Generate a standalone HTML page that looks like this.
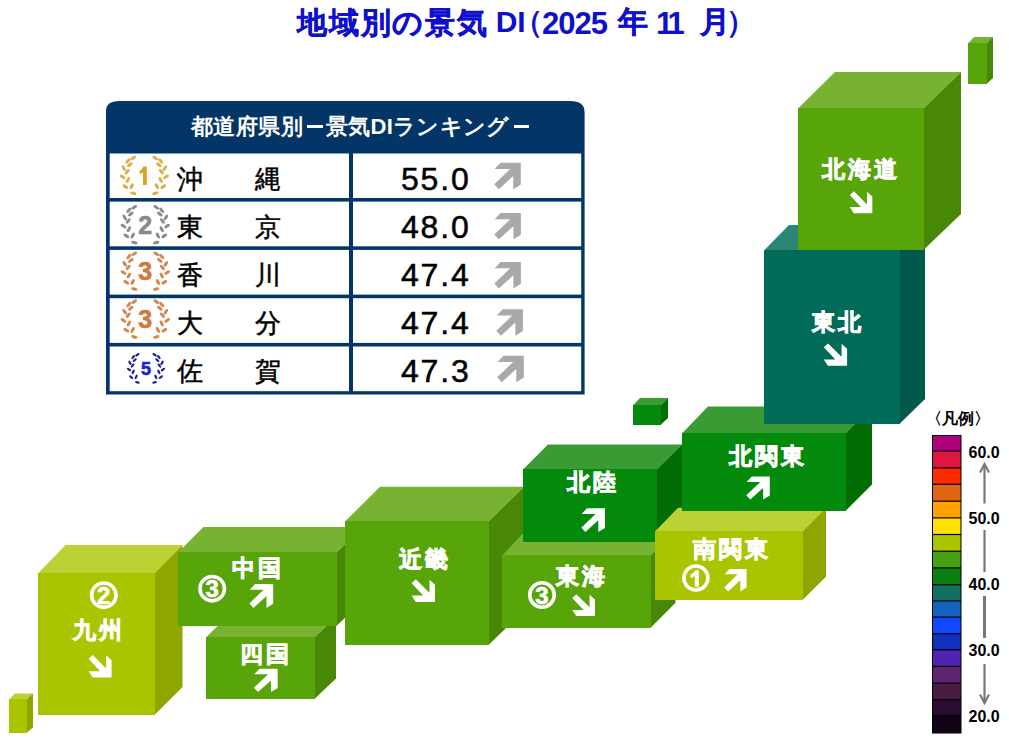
<!DOCTYPE html>
<html><head><meta charset="utf-8">
<style>
html,body{margin:0;padding:0;background:#fff;}
body{width:1009px;height:756px;position:relative;overflow:hidden;font-family:"Liberation Sans",sans-serif;}
svg{position:absolute;left:0;top:0;}
.t{position:absolute;white-space:pre;line-height:1;}
</style></head><body>
<svg width="1009" height="756" viewBox="0 0 1009 756"><path fill="#033567" d="M106,394.6 L106,111 Q106,101 119.5,101 L570,101 Q584.6,101 584.6,112 L584.6,394.6 Z"/><rect fill="#fff" x="109.7" y="153.5" width="239.3" height="44.5"/><rect fill="#fff" x="353" y="153.5" width="228.2" height="44.5"/><rect fill="#fff" x="109.7" y="201.6" width="239.3" height="44.7"/><rect fill="#fff" x="353" y="201.6" width="228.2" height="44.7"/><rect fill="#fff" x="109.7" y="249.9" width="239.3" height="44.7"/><rect fill="#fff" x="353" y="249.9" width="228.2" height="44.7"/><rect fill="#fff" x="109.7" y="298.2" width="239.3" height="44.7"/><rect fill="#fff" x="353" y="298.2" width="228.2" height="44.7"/><rect fill="#fff" x="109.7" y="346.5" width="239.3" height="44.7"/><rect fill="#fff" x="353" y="346.5" width="228.2" height="44.7"/><polygon fill="#bcd134" points="38.0,573.6 65.5,545.0 182.5,545.0 154.4,573.6"/><polygon fill="#8fa600" points="154.4,573.6 182.5,545.0 182.5,687.0 154.4,715.0"/><rect fill="#aac400" x="38" y="573" width="117" height="142"/><polygon fill="#77b233" points="206.0,637.6 227.0,616.5 336.0,616.5 314.4,637.6"/><polygon fill="#488806" points="314.4,637.6 336.0,616.5 336.0,678.5 314.4,699.0"/><rect fill="#58a50a" x="206" y="637" width="109" height="62"/><polygon fill="#77b233" points="178.0,552.6 203.5,527.0 362.5,527.0 336.4,552.6"/><polygon fill="#488806" points="336.4,552.6 362.5,527.0 362.5,601.0 336.4,626.0"/><rect fill="#58a50a" x="178" y="552" width="159" height="74"/><polygon fill="#77b233" points="345.0,521.6 380.0,486.8 524.0,486.8 488.4,521.6"/><polygon fill="#488806" points="488.4,521.6 524.0,486.8 524.0,610.8 488.4,645.0"/><rect fill="#58a50a" x="345" y="521" width="144" height="124"/><polygon fill="#77b233" points="502.0,555.6 526.5,529.8 675.5,529.8 650.4,555.6"/><polygon fill="#488806" points="650.4,555.6 675.5,529.8 675.5,602.8 650.4,628.0"/><rect fill="#58a50a" x="502" y="555" width="149" height="73"/><polygon fill="#3a9a34" points="523.0,469.6 548.0,444.5 682.0,444.5 656.4,469.6"/><polygon fill="#026d05" points="656.4,469.6 682.0,444.5 682.0,517.5 656.4,542.0"/><rect fill="#038a0c" x="523" y="469" width="134" height="73"/><polygon fill="#bcd134" points="655.0,531.6 678.0,507.8 826.0,507.8 802.4,531.6"/><polygon fill="#8fa600" points="802.4,531.6 826.0,507.8 826.0,576.8 802.4,600.0"/><rect fill="#aac400" x="655" y="531" width="148" height="69"/><polygon fill="#3a9a34" points="682.0,433.6 708.0,406.5 872.0,406.5 845.4,433.6"/><polygon fill="#026d05" points="845.4,433.6 872.0,406.5 872.0,484.5 845.4,511.0"/><rect fill="#038a0c" x="682" y="433" width="164" height="78"/><polygon fill="#2b8676" points="764.0,250.6 789.0,225.0 925.0,225.0 899.4,250.6"/><polygon fill="#00594a" points="899.4,250.6 925.0,225.0 925.0,399.0 899.4,424.0"/><rect fill="#006b57" x="764" y="250" width="136" height="174"/><polygon fill="#77b233" points="798.0,108.6 835.0,72.0 961.0,72.0 923.4,108.6"/><polygon fill="#488806" points="923.4,108.6 961.0,72.0 961.0,214.0 923.4,250.0"/><rect fill="#58a50a" x="798" y="108" width="126" height="142"/><polygon fill="#77b233" points="968.0,43.6 974.0,37.0 993.0,37.0 986.4,43.6"/><polygon fill="#488806" points="986.4,43.6 993.0,37.0 993.0,78.0 986.4,84.0"/><rect fill="#58a50a" x="968" y="43" width="19" height="41"/><polygon fill="#3a9a34" points="633.0,405.6 640.0,398.0 668.0,398.0 660.4,405.6"/><polygon fill="#026d05" points="660.4,405.6 668.0,398.0 668.0,418.0 660.4,425.0"/><rect fill="#038a0c" x="633" y="405" width="28" height="20"/><polygon fill="#bcd134" points="9.0,699.6 15.0,693.5 33.0,693.5 26.4,699.6"/><polygon fill="#8fa600" points="26.4,699.6 33.0,693.5 33.0,727.5 26.4,733.0"/><rect fill="#aac400" x="9" y="699" width="18" height="34"/><g transform="translate(849.8 191.3) scale(0.859 0.836) rotate(90 13.1 13.1)"><path fill="#fff" d="M0.4,6.2 L6.2,0 L26.2,0 L26.2,21.6 L18.8,26.2 L18.8,13.2 L4.5,26.2 L0,21.4 L15.7,6.2 Z"/></g><g transform="translate(823.8 343.4) scale(0.889 0.851) rotate(90 13.1 13.1)"><path fill="#fff" d="M0.4,6.2 L6.2,0 L26.2,0 L26.2,21.6 L18.8,26.2 L18.8,13.2 L4.5,26.2 L0,21.4 L15.7,6.2 Z"/></g><g transform="translate(746.2 476.5) scale(0.901 0.874)"><path fill="#fff" d="M0.4,6.2 L6.2,0 L26.2,0 L26.2,21.6 L18.8,26.2 L18.8,13.2 L4.5,26.2 L0,21.4 L15.7,6.2 Z"/></g><g transform="translate(581.3 508.3) scale(0.905 0.908)"><path fill="#fff" d="M0.4,6.2 L6.2,0 L26.2,0 L26.2,21.6 L18.8,26.2 L18.8,13.2 L4.5,26.2 L0,21.4 L15.7,6.2 Z"/></g><g transform="translate(724.3 568.9) scale(0.851 0.866)"><path fill="#fff" d="M0.4,6.2 L6.2,0 L26.2,0 L26.2,21.6 L18.8,26.2 L18.8,13.2 L4.5,26.2 L0,21.4 L15.7,6.2 Z"/></g><g transform="translate(572.2 594.3) scale(0.870 0.832) rotate(90 13.1 13.1)"><path fill="#fff" d="M0.4,6.2 L6.2,0 L26.2,0 L26.2,21.6 L18.8,26.2 L18.8,13.2 L4.5,26.2 L0,21.4 L15.7,6.2 Z"/></g><g transform="translate(411.6 579.3) scale(0.893 0.863) rotate(90 13.1 13.1)"><path fill="#fff" d="M0.4,6.2 L6.2,0 L26.2,0 L26.2,21.6 L18.8,26.2 L18.8,13.2 L4.5,26.2 L0,21.4 L15.7,6.2 Z"/></g><g transform="translate(249.4 584.0) scale(0.908 0.912)"><path fill="#fff" d="M0.4,6.2 L6.2,0 L26.2,0 L26.2,21.6 L18.8,26.2 L18.8,13.2 L4.5,26.2 L0,21.4 L15.7,6.2 Z"/></g><g transform="translate(253.9 668.7) scale(0.908 0.889)"><path fill="#fff" d="M0.4,6.2 L6.2,0 L26.2,0 L26.2,21.6 L18.8,26.2 L18.8,13.2 L4.5,26.2 L0,21.4 L15.7,6.2 Z"/></g><g transform="translate(88.6 654.9) scale(0.878 0.866) rotate(90 13.1 13.1)"><path fill="#fff" d="M0.4,6.2 L6.2,0 L26.2,0 L26.2,21.6 L18.8,26.2 L18.8,13.2 L4.5,26.2 L0,21.4 L15.7,6.2 Z"/></g><g transform="translate(494.2 162.8) scale(1.015 1.008)"><path fill="#a9a9a9" d="M0.4,6.2 L6.2,0 L26.2,0 L26.2,21.6 L18.8,26.2 L18.8,13.2 L4.5,26.2 L0,21.4 L15.7,6.2 Z"/></g><g transform="translate(494.3 212.9) scale(1.015 1.008)"><path fill="#a9a9a9" d="M0.4,6.2 L6.2,0 L26.2,0 L26.2,21.6 L18.8,26.2 L18.8,13.2 L4.5,26.2 L0,21.4 L15.7,6.2 Z"/></g><g transform="translate(494.3 262.0) scale(1.015 1.008)"><path fill="#a9a9a9" d="M0.4,6.2 L6.2,0 L26.2,0 L26.2,21.6 L18.8,26.2 L18.8,13.2 L4.5,26.2 L0,21.4 L15.7,6.2 Z"/></g><g transform="translate(496.3 309.3) scale(1.015 1.008)"><path fill="#a9a9a9" d="M0.4,6.2 L6.2,0 L26.2,0 L26.2,21.6 L18.8,26.2 L18.8,13.2 L4.5,26.2 L0,21.4 L15.7,6.2 Z"/></g><g transform="translate(497.2 355.8) scale(1.015 1.008)"><path fill="#a9a9a9" d="M0.4,6.2 L6.2,0 L26.2,0 L26.2,21.6 L18.8,26.2 L18.8,13.2 L4.5,26.2 L0,21.4 L15.7,6.2 Z"/></g><circle cx="695.9" cy="578.0" r="12.0" fill="none" stroke="#fff" stroke-width="3.6"/><path fill="#fff" stroke="#fff" stroke-width="0.8" d="M698.4,570.4 L698.4,586.4 L695.2,586.4 L695.2,575.6 Q693.1,577.0 690.9,577.6 L690.9,574.6 Q694.2,573.2 695.4,570.4 Z"/><circle cx="542.0" cy="595.0" r="12.2" fill="none" stroke="#fff" stroke-width="3.6"/><text x="542.0" y="603.6" text-anchor="middle" font-family="Liberation Sans, sans-serif" font-size="24" font-weight="bold" fill="#fff" stroke="#fff" stroke-width="0.6">3</text><circle cx="212.2" cy="588.7" r="12.2" fill="none" stroke="#fff" stroke-width="3.6"/><text x="212.2" y="597.3" text-anchor="middle" font-family="Liberation Sans, sans-serif" font-size="24" font-weight="bold" fill="#fff" stroke="#fff" stroke-width="0.6">3</text><circle cx="103.8" cy="595.2" r="12.2" fill="none" stroke="#fff" stroke-width="3.6"/><text x="103.8" y="603.8" text-anchor="middle" font-family="Liberation Sans, sans-serif" font-size="24" font-weight="bold" fill="#fff" stroke="#fff" stroke-width="0.6">2</text><g transform="translate(144.3 175.5) scale(1.000)"><ellipse cx="-11.0" cy="-17.5" rx="3.2" ry="1.55" fill="#d9b04a" transform="rotate(-33 -11.0 -17.5)"/><ellipse cx="11.0" cy="-17.5" rx="3.2" ry="1.55" fill="#d9b04a" transform="rotate(33 11.0 -17.5)"/><ellipse cx="-16.4" cy="-14.6" rx="3.2" ry="1.55" fill="#d9b04a" transform="rotate(-51 -16.4 -14.6)"/><ellipse cx="16.4" cy="-14.6" rx="3.2" ry="1.55" fill="#d9b04a" transform="rotate(51 16.4 -14.6)"/><ellipse cx="-14.5" cy="-10.8" rx="3.2" ry="1.55" fill="#d9b04a" transform="rotate(-39 -14.5 -10.8)"/><ellipse cx="14.5" cy="-10.8" rx="3.2" ry="1.55" fill="#d9b04a" transform="rotate(39 14.5 -10.8)"/><ellipse cx="-20.6" cy="-7.3" rx="3.2" ry="1.55" fill="#d9b04a" transform="rotate(58 -20.6 -7.3)"/><ellipse cx="20.6" cy="-7.3" rx="3.2" ry="1.55" fill="#d9b04a" transform="rotate(-58 20.6 -7.3)"/><ellipse cx="-17.1" cy="-3.8" rx="3.2" ry="1.55" fill="#d9b04a" transform="rotate(-50 -17.1 -3.8)"/><ellipse cx="17.1" cy="-3.8" rx="3.2" ry="1.55" fill="#d9b04a" transform="rotate(50 17.1 -3.8)"/><ellipse cx="-21.8" cy="1.3" rx="3.2" ry="1.55" fill="#d9b04a" transform="rotate(35 -21.8 1.3)"/><ellipse cx="21.8" cy="1.3" rx="3.2" ry="1.55" fill="#d9b04a" transform="rotate(-35 21.8 1.3)"/><ellipse cx="-16.4" cy="4.4" rx="3.2" ry="1.55" fill="#d9b04a" transform="rotate(-62 -16.4 4.4)"/><ellipse cx="16.4" cy="4.4" rx="3.2" ry="1.55" fill="#d9b04a" transform="rotate(62 16.4 4.4)"/><ellipse cx="-19.0" cy="11.1" rx="3.2" ry="1.55" fill="#d9b04a" transform="rotate(34 -19.0 11.1)"/><ellipse cx="19.0" cy="11.1" rx="3.2" ry="1.55" fill="#d9b04a" transform="rotate(-34 19.0 11.1)"/><ellipse cx="-12.6" cy="10.8" rx="3.2" ry="1.55" fill="#d9b04a" transform="rotate(-63 -12.6 10.8)"/><ellipse cx="12.6" cy="10.8" rx="3.2" ry="1.55" fill="#d9b04a" transform="rotate(63 12.6 10.8)"/><ellipse cx="-11.0" cy="17.8" rx="3.2" ry="1.55" fill="#d9b04a" transform="rotate(17 -11.0 17.8)"/><ellipse cx="11.0" cy="17.8" rx="3.2" ry="1.55" fill="#d9b04a" transform="rotate(-17 11.0 17.8)"/></g><path fill="#d8a425" d="M146.8,166.5 L146.8,184.9 L143.0,184.9 L143.0,172.5 Q141.4,173.7 139.6,174.1 L139.6,170.9 Q142.2,169.7 143.4,166.5 Z"/><g transform="translate(145.3 224.8) scale(1.000)"><ellipse cx="-11.0" cy="-17.5" rx="3.2" ry="1.55" fill="#8c8c8c" transform="rotate(-33 -11.0 -17.5)"/><ellipse cx="11.0" cy="-17.5" rx="3.2" ry="1.55" fill="#8c8c8c" transform="rotate(33 11.0 -17.5)"/><ellipse cx="-16.4" cy="-14.6" rx="3.2" ry="1.55" fill="#8c8c8c" transform="rotate(-51 -16.4 -14.6)"/><ellipse cx="16.4" cy="-14.6" rx="3.2" ry="1.55" fill="#8c8c8c" transform="rotate(51 16.4 -14.6)"/><ellipse cx="-14.5" cy="-10.8" rx="3.2" ry="1.55" fill="#8c8c8c" transform="rotate(-39 -14.5 -10.8)"/><ellipse cx="14.5" cy="-10.8" rx="3.2" ry="1.55" fill="#8c8c8c" transform="rotate(39 14.5 -10.8)"/><ellipse cx="-20.6" cy="-7.3" rx="3.2" ry="1.55" fill="#8c8c8c" transform="rotate(58 -20.6 -7.3)"/><ellipse cx="20.6" cy="-7.3" rx="3.2" ry="1.55" fill="#8c8c8c" transform="rotate(-58 20.6 -7.3)"/><ellipse cx="-17.1" cy="-3.8" rx="3.2" ry="1.55" fill="#8c8c8c" transform="rotate(-50 -17.1 -3.8)"/><ellipse cx="17.1" cy="-3.8" rx="3.2" ry="1.55" fill="#8c8c8c" transform="rotate(50 17.1 -3.8)"/><ellipse cx="-21.8" cy="1.3" rx="3.2" ry="1.55" fill="#8c8c8c" transform="rotate(35 -21.8 1.3)"/><ellipse cx="21.8" cy="1.3" rx="3.2" ry="1.55" fill="#8c8c8c" transform="rotate(-35 21.8 1.3)"/><ellipse cx="-16.4" cy="4.4" rx="3.2" ry="1.55" fill="#8c8c8c" transform="rotate(-62 -16.4 4.4)"/><ellipse cx="16.4" cy="4.4" rx="3.2" ry="1.55" fill="#8c8c8c" transform="rotate(62 16.4 4.4)"/><ellipse cx="-19.0" cy="11.1" rx="3.2" ry="1.55" fill="#8c8c8c" transform="rotate(34 -19.0 11.1)"/><ellipse cx="19.0" cy="11.1" rx="3.2" ry="1.55" fill="#8c8c8c" transform="rotate(-34 19.0 11.1)"/><ellipse cx="-12.6" cy="10.8" rx="3.2" ry="1.55" fill="#8c8c8c" transform="rotate(-63 -12.6 10.8)"/><ellipse cx="12.6" cy="10.8" rx="3.2" ry="1.55" fill="#8c8c8c" transform="rotate(63 12.6 10.8)"/><ellipse cx="-11.0" cy="17.8" rx="3.2" ry="1.55" fill="#8c8c8c" transform="rotate(17 -11.0 17.8)"/><ellipse cx="11.0" cy="17.8" rx="3.2" ry="1.55" fill="#8c8c8c" transform="rotate(-17 11.0 17.8)"/></g><text x="145.3" y="233.8" text-anchor="middle" font-family="Liberation Sans, sans-serif" font-weight="bold" font-size="25" fill="#8a8a8a" stroke="#8a8a8a" stroke-width="0.6">2</text><g transform="translate(145.3 271.2) scale(1.000)"><ellipse cx="-11.0" cy="-17.5" rx="3.2" ry="1.55" fill="#d4864c" transform="rotate(-33 -11.0 -17.5)"/><ellipse cx="11.0" cy="-17.5" rx="3.2" ry="1.55" fill="#d4864c" transform="rotate(33 11.0 -17.5)"/><ellipse cx="-16.4" cy="-14.6" rx="3.2" ry="1.55" fill="#d4864c" transform="rotate(-51 -16.4 -14.6)"/><ellipse cx="16.4" cy="-14.6" rx="3.2" ry="1.55" fill="#d4864c" transform="rotate(51 16.4 -14.6)"/><ellipse cx="-14.5" cy="-10.8" rx="3.2" ry="1.55" fill="#d4864c" transform="rotate(-39 -14.5 -10.8)"/><ellipse cx="14.5" cy="-10.8" rx="3.2" ry="1.55" fill="#d4864c" transform="rotate(39 14.5 -10.8)"/><ellipse cx="-20.6" cy="-7.3" rx="3.2" ry="1.55" fill="#d4864c" transform="rotate(58 -20.6 -7.3)"/><ellipse cx="20.6" cy="-7.3" rx="3.2" ry="1.55" fill="#d4864c" transform="rotate(-58 20.6 -7.3)"/><ellipse cx="-17.1" cy="-3.8" rx="3.2" ry="1.55" fill="#d4864c" transform="rotate(-50 -17.1 -3.8)"/><ellipse cx="17.1" cy="-3.8" rx="3.2" ry="1.55" fill="#d4864c" transform="rotate(50 17.1 -3.8)"/><ellipse cx="-21.8" cy="1.3" rx="3.2" ry="1.55" fill="#d4864c" transform="rotate(35 -21.8 1.3)"/><ellipse cx="21.8" cy="1.3" rx="3.2" ry="1.55" fill="#d4864c" transform="rotate(-35 21.8 1.3)"/><ellipse cx="-16.4" cy="4.4" rx="3.2" ry="1.55" fill="#d4864c" transform="rotate(-62 -16.4 4.4)"/><ellipse cx="16.4" cy="4.4" rx="3.2" ry="1.55" fill="#d4864c" transform="rotate(62 16.4 4.4)"/><ellipse cx="-19.0" cy="11.1" rx="3.2" ry="1.55" fill="#d4864c" transform="rotate(34 -19.0 11.1)"/><ellipse cx="19.0" cy="11.1" rx="3.2" ry="1.55" fill="#d4864c" transform="rotate(-34 19.0 11.1)"/><ellipse cx="-12.6" cy="10.8" rx="3.2" ry="1.55" fill="#d4864c" transform="rotate(-63 -12.6 10.8)"/><ellipse cx="12.6" cy="10.8" rx="3.2" ry="1.55" fill="#d4864c" transform="rotate(63 12.6 10.8)"/><ellipse cx="-11.0" cy="17.8" rx="3.2" ry="1.55" fill="#d4864c" transform="rotate(17 -11.0 17.8)"/><ellipse cx="11.0" cy="17.8" rx="3.2" ry="1.55" fill="#d4864c" transform="rotate(-17 11.0 17.8)"/></g><text x="145.3" y="280.2" text-anchor="middle" font-family="Liberation Sans, sans-serif" font-weight="bold" font-size="25" fill="#cf7a3c" stroke="#cf7a3c" stroke-width="0.6">3</text><g transform="translate(145.3 319.1) scale(1.000)"><ellipse cx="-11.0" cy="-17.5" rx="3.2" ry="1.55" fill="#d4864c" transform="rotate(-33 -11.0 -17.5)"/><ellipse cx="11.0" cy="-17.5" rx="3.2" ry="1.55" fill="#d4864c" transform="rotate(33 11.0 -17.5)"/><ellipse cx="-16.4" cy="-14.6" rx="3.2" ry="1.55" fill="#d4864c" transform="rotate(-51 -16.4 -14.6)"/><ellipse cx="16.4" cy="-14.6" rx="3.2" ry="1.55" fill="#d4864c" transform="rotate(51 16.4 -14.6)"/><ellipse cx="-14.5" cy="-10.8" rx="3.2" ry="1.55" fill="#d4864c" transform="rotate(-39 -14.5 -10.8)"/><ellipse cx="14.5" cy="-10.8" rx="3.2" ry="1.55" fill="#d4864c" transform="rotate(39 14.5 -10.8)"/><ellipse cx="-20.6" cy="-7.3" rx="3.2" ry="1.55" fill="#d4864c" transform="rotate(58 -20.6 -7.3)"/><ellipse cx="20.6" cy="-7.3" rx="3.2" ry="1.55" fill="#d4864c" transform="rotate(-58 20.6 -7.3)"/><ellipse cx="-17.1" cy="-3.8" rx="3.2" ry="1.55" fill="#d4864c" transform="rotate(-50 -17.1 -3.8)"/><ellipse cx="17.1" cy="-3.8" rx="3.2" ry="1.55" fill="#d4864c" transform="rotate(50 17.1 -3.8)"/><ellipse cx="-21.8" cy="1.3" rx="3.2" ry="1.55" fill="#d4864c" transform="rotate(35 -21.8 1.3)"/><ellipse cx="21.8" cy="1.3" rx="3.2" ry="1.55" fill="#d4864c" transform="rotate(-35 21.8 1.3)"/><ellipse cx="-16.4" cy="4.4" rx="3.2" ry="1.55" fill="#d4864c" transform="rotate(-62 -16.4 4.4)"/><ellipse cx="16.4" cy="4.4" rx="3.2" ry="1.55" fill="#d4864c" transform="rotate(62 16.4 4.4)"/><ellipse cx="-19.0" cy="11.1" rx="3.2" ry="1.55" fill="#d4864c" transform="rotate(34 -19.0 11.1)"/><ellipse cx="19.0" cy="11.1" rx="3.2" ry="1.55" fill="#d4864c" transform="rotate(-34 19.0 11.1)"/><ellipse cx="-12.6" cy="10.8" rx="3.2" ry="1.55" fill="#d4864c" transform="rotate(-63 -12.6 10.8)"/><ellipse cx="12.6" cy="10.8" rx="3.2" ry="1.55" fill="#d4864c" transform="rotate(63 12.6 10.8)"/><ellipse cx="-11.0" cy="17.8" rx="3.2" ry="1.55" fill="#d4864c" transform="rotate(17 -11.0 17.8)"/><ellipse cx="11.0" cy="17.8" rx="3.2" ry="1.55" fill="#d4864c" transform="rotate(-17 11.0 17.8)"/></g><text x="145.3" y="328.1" text-anchor="middle" font-family="Liberation Sans, sans-serif" font-weight="bold" font-size="25" fill="#cf7a3c" stroke="#cf7a3c" stroke-width="0.6">3</text><g transform="translate(146.0 368.5) scale(0.780)"><ellipse cx="-11.0" cy="-17.5" rx="3.2" ry="1.55" fill="#22229a" transform="rotate(-33 -11.0 -17.5)"/><ellipse cx="11.0" cy="-17.5" rx="3.2" ry="1.55" fill="#22229a" transform="rotate(33 11.0 -17.5)"/><ellipse cx="-16.4" cy="-14.6" rx="3.2" ry="1.55" fill="#22229a" transform="rotate(-51 -16.4 -14.6)"/><ellipse cx="16.4" cy="-14.6" rx="3.2" ry="1.55" fill="#22229a" transform="rotate(51 16.4 -14.6)"/><ellipse cx="-14.5" cy="-10.8" rx="3.2" ry="1.55" fill="#22229a" transform="rotate(-39 -14.5 -10.8)"/><ellipse cx="14.5" cy="-10.8" rx="3.2" ry="1.55" fill="#22229a" transform="rotate(39 14.5 -10.8)"/><ellipse cx="-20.6" cy="-7.3" rx="3.2" ry="1.55" fill="#22229a" transform="rotate(58 -20.6 -7.3)"/><ellipse cx="20.6" cy="-7.3" rx="3.2" ry="1.55" fill="#22229a" transform="rotate(-58 20.6 -7.3)"/><ellipse cx="-17.1" cy="-3.8" rx="3.2" ry="1.55" fill="#22229a" transform="rotate(-50 -17.1 -3.8)"/><ellipse cx="17.1" cy="-3.8" rx="3.2" ry="1.55" fill="#22229a" transform="rotate(50 17.1 -3.8)"/><ellipse cx="-21.8" cy="1.3" rx="3.2" ry="1.55" fill="#22229a" transform="rotate(35 -21.8 1.3)"/><ellipse cx="21.8" cy="1.3" rx="3.2" ry="1.55" fill="#22229a" transform="rotate(-35 21.8 1.3)"/><ellipse cx="-16.4" cy="4.4" rx="3.2" ry="1.55" fill="#22229a" transform="rotate(-62 -16.4 4.4)"/><ellipse cx="16.4" cy="4.4" rx="3.2" ry="1.55" fill="#22229a" transform="rotate(62 16.4 4.4)"/><ellipse cx="-19.0" cy="11.1" rx="3.2" ry="1.55" fill="#22229a" transform="rotate(34 -19.0 11.1)"/><ellipse cx="19.0" cy="11.1" rx="3.2" ry="1.55" fill="#22229a" transform="rotate(-34 19.0 11.1)"/><ellipse cx="-12.6" cy="10.8" rx="3.2" ry="1.55" fill="#22229a" transform="rotate(-63 -12.6 10.8)"/><ellipse cx="12.6" cy="10.8" rx="3.2" ry="1.55" fill="#22229a" transform="rotate(63 12.6 10.8)"/><ellipse cx="-11.0" cy="17.8" rx="3.2" ry="1.55" fill="#22229a" transform="rotate(17 -11.0 17.8)"/><ellipse cx="11.0" cy="17.8" rx="3.2" ry="1.55" fill="#22229a" transform="rotate(-17 11.0 17.8)"/></g><text x="146.0" y="375.0" text-anchor="middle" font-family="Liberation Sans, sans-serif" font-weight="bold" font-size="18" fill="#2222c8" stroke="#2222c8" stroke-width="0.6">5</text><rect x="932" y="435" width="29.5" height="298.5" fill="#000"/><rect x="933" y="435.8" width="27.5" height="14.8" fill="#b0007a"/><rect x="933" y="451.8" width="27.5" height="15.5" fill="#e01540"/><rect x="933" y="468.5" width="27.5" height="15.2" fill="#ff2a00"/><rect x="933" y="484.9" width="27.5" height="15.7" fill="#df6510"/><rect x="933" y="501.8" width="27.5" height="15.5" fill="#ffa200"/><rect x="933" y="518.5" width="27.5" height="15.4" fill="#ffe000"/><rect x="933" y="535.1" width="27.5" height="15.5" fill="#abc400"/><rect x="933" y="551.8" width="27.5" height="15.5" fill="#4aa014"/><rect x="933" y="568.5" width="27.5" height="15.7" fill="#0a7e10"/><rect x="933" y="585.4" width="27.5" height="14.9" fill="#127060"/><rect x="933" y="601.5" width="27.5" height="15.0" fill="#1262be"/><rect x="933" y="617.7" width="27.5" height="15.5" fill="#1048ff"/><rect x="933" y="634.4" width="27.5" height="14.8" fill="#1030c0"/><rect x="933" y="650.4" width="27.5" height="15.4" fill="#5024b0"/><rect x="933" y="667.0" width="27.5" height="15.5" fill="#5e2470"/><rect x="933" y="683.7" width="27.5" height="15.5" fill="#4a1c44"/><rect x="933" y="700.4" width="27.5" height="14.7" fill="#2a0c30"/><rect x="933" y="716.3" width="27.5" height="16.2" fill="#120416"/><line x1="984.5" y1="465" x2="984.5" y2="503.5" stroke="#777" stroke-width="2.2"/><polyline points="980,472.5 984.5,464 989,472.5" fill="none" stroke="#777" stroke-width="2.2"/><line x1="984.5" y1="530" x2="984.5" y2="572" stroke="#777" stroke-width="2.2"/><line x1="984.5" y1="596" x2="984.5" y2="638" stroke="#777" stroke-width="3"/><line x1="984.5" y1="664" x2="984.5" y2="703" stroke="#777" stroke-width="2.2"/><polyline points="980,694.5 984.5,703 989,694.5" fill="none" stroke="#777" stroke-width="2.2"/></svg>
<div class="t" style="left:297.0px;top:8.0px;font-size:30.0px;color:#1010cc;font-weight:bold;letter-spacing:1.8px;-webkit-text-stroke:0.4px #1010cc;">地域別の景気</div><div class="t" style="left:495.7px;top:7.0px;font-size:30.0px;color:#1010cc;font-weight:bold;">DI</div><div class="t" style="left:512.8px;top:7.0px;font-size:30.0px;color:#1010cc;font-weight:bold;">（</div><div class="t" style="left:542.0px;top:7.5px;font-size:31.0px;color:#1010cc;font-weight:bold;letter-spacing:-1px;">2025</div><div class="t" style="left:617.5px;top:7.0px;font-size:30.0px;color:#1010cc;font-weight:bold;-webkit-text-stroke:0.4px #1010cc;">年</div><div class="t" style="left:656.0px;top:7.5px;font-size:31.0px;color:#1010cc;font-weight:bold;letter-spacing:-4px;">11</div><div class="t" style="left:699.5px;top:7.0px;font-size:30.0px;color:#1010cc;font-weight:bold;-webkit-text-stroke:0.4px #1010cc;">月</div><div class="t" style="left:726.4px;top:7.0px;font-size:30.0px;color:#1010cc;font-weight:bold;">）</div><div class="t" style="left:190.5px;top:115.5px;font-size:22.0px;color:#fff;font-weight:bold;letter-spacing:0.5px;">都道府県別</div><div class="t" style="left:326.0px;top:115.5px;font-size:22.0px;color:#fff;font-weight:bold;letter-spacing:0.25px;">景気DIランキング</div><div style="position:absolute;left:307px;top:125px;width:15.5px;height:2.9px;background:#fff"></div><div style="position:absolute;left:513.8px;top:125.1px;width:15.3px;height:2.8px;background:#fff"></div><div class="t" style="left:177.0px;top:165.5px;font-size:26.0px;color:#000;font-weight:normal;-webkit-text-stroke:0.5px #000;">沖</div><div class="t" style="left:255.0px;top:165.5px;font-size:26.0px;color:#000;font-weight:normal;-webkit-text-stroke:0.5px #000;">縄</div><div class="t" style="left:401.0px;top:163.0px;font-size:32.0px;color:#000;font-weight:normal;letter-spacing:1.8px;-webkit-text-stroke:0.5px #000;">55.0</div><div class="t" style="left:177.0px;top:213.5px;font-size:26.0px;color:#000;font-weight:normal;-webkit-text-stroke:0.5px #000;">東</div><div class="t" style="left:255.0px;top:213.5px;font-size:26.0px;color:#000;font-weight:normal;-webkit-text-stroke:0.5px #000;">京</div><div class="t" style="left:401.0px;top:211.0px;font-size:32.0px;color:#000;font-weight:normal;letter-spacing:1.8px;-webkit-text-stroke:0.5px #000;">48.0</div><div class="t" style="left:177.0px;top:261.5px;font-size:26.0px;color:#000;font-weight:normal;-webkit-text-stroke:0.5px #000;">香</div><div class="t" style="left:255.0px;top:261.5px;font-size:26.0px;color:#000;font-weight:normal;-webkit-text-stroke:0.5px #000;">川</div><div class="t" style="left:401.0px;top:259.0px;font-size:32.0px;color:#000;font-weight:normal;letter-spacing:1.8px;-webkit-text-stroke:0.5px #000;">47.4</div><div class="t" style="left:177.0px;top:309.5px;font-size:26.0px;color:#000;font-weight:normal;-webkit-text-stroke:0.5px #000;">大</div><div class="t" style="left:255.0px;top:309.5px;font-size:26.0px;color:#000;font-weight:normal;-webkit-text-stroke:0.5px #000;">分</div><div class="t" style="left:401.0px;top:307.0px;font-size:32.0px;color:#000;font-weight:normal;letter-spacing:1.8px;-webkit-text-stroke:0.5px #000;">47.4</div><div class="t" style="left:177.0px;top:357.5px;font-size:26.0px;color:#000;font-weight:normal;-webkit-text-stroke:0.5px #000;">佐</div><div class="t" style="left:255.0px;top:357.5px;font-size:26.0px;color:#000;font-weight:normal;-webkit-text-stroke:0.5px #000;">賀</div><div class="t" style="left:401.0px;top:355.0px;font-size:32.0px;color:#000;font-weight:normal;letter-spacing:1.8px;-webkit-text-stroke:0.5px #000;">47.3</div><div class="t" style="left:822.0px;top:157.5px;font-size:23.0px;color:#fff;font-weight:bold;-webkit-text-stroke:0.8px #fff;letter-spacing:3.0px;">北海道</div><div class="t" style="left:812.0px;top:310.5px;font-size:23.0px;color:#fff;font-weight:bold;-webkit-text-stroke:0.8px #fff;letter-spacing:3.0px;">東北</div><div class="t" style="left:729.0px;top:445.0px;font-size:23.0px;color:#fff;font-weight:bold;-webkit-text-stroke:0.8px #fff;letter-spacing:3.0px;">北関東</div><div class="t" style="left:567.0px;top:471.0px;font-size:23.0px;color:#fff;font-weight:bold;-webkit-text-stroke:0.8px #fff;letter-spacing:3.0px;">北陸</div><div class="t" style="left:693.0px;top:538.0px;font-size:23.0px;color:#fff;font-weight:bold;-webkit-text-stroke:0.8px #fff;letter-spacing:3.0px;">南関東</div><div class="t" style="left:556.0px;top:565.0px;font-size:23.0px;color:#fff;font-weight:bold;-webkit-text-stroke:0.8px #fff;letter-spacing:3.0px;">東海</div><div class="t" style="left:399.0px;top:547.5px;font-size:23.0px;color:#fff;font-weight:bold;-webkit-text-stroke:0.8px #fff;letter-spacing:3.0px;">近畿</div><div class="t" style="left:232.0px;top:557.0px;font-size:23.0px;color:#fff;font-weight:bold;-webkit-text-stroke:0.8px #fff;letter-spacing:3.0px;">中国</div><div class="t" style="left:240.0px;top:643.0px;font-size:23.0px;color:#fff;font-weight:bold;-webkit-text-stroke:0.8px #fff;letter-spacing:3.0px;">四国</div><div class="t" style="left:73.0px;top:619.0px;font-size:23.0px;color:#fff;font-weight:bold;-webkit-text-stroke:0.8px #fff;letter-spacing:3.0px;">九州</div><div class="t" style="left:926.0px;top:411.0px;font-size:16.0px;color:#000;font-weight:bold;">〈凡例〉</div><div class="t" style="left:968.5px;top:445.0px;font-size:16.0px;color:#000;font-weight:bold;">60.0</div><div class="t" style="left:968.5px;top:511.0px;font-size:16.0px;color:#000;font-weight:bold;">50.0</div><div class="t" style="left:968.5px;top:577.0px;font-size:16.0px;color:#000;font-weight:bold;">40.0</div><div class="t" style="left:968.5px;top:643.0px;font-size:16.0px;color:#000;font-weight:bold;">30.0</div><div class="t" style="left:968.5px;top:709.0px;font-size:16.0px;color:#000;font-weight:bold;">20.0</div>
</body></html>
